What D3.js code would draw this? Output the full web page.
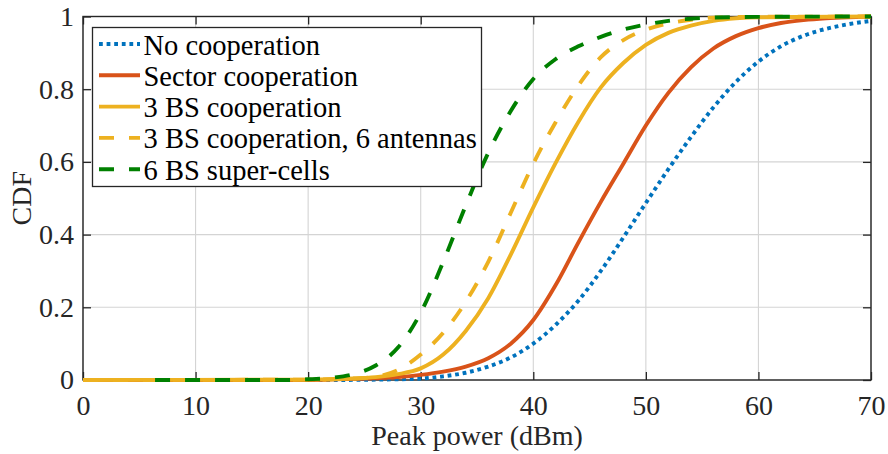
<!DOCTYPE html>
<html>
<head>
<meta charset="utf-8">
<script src="https://cdn.jsdelivr.net/npm/d3@7"></script>
<style>
  html, body { margin: 0; padding: 0; background: #fff; }
  svg { display: block; }
</style>
</head>
<body>
<svg id="chart" width="888" height="454"></svg>
<script>
// Axis ticks
const xTicks = [0, 10, 20, 30, 40, 50, 60, 70];
const yTicks = [0, 0.2, 0.4, 0.6, 0.8, 1];
const yTickLabels = ["0", "0.2", "0.4", "0.6", "0.8", "1"];

// Series names (legend order)
const seriesNames = [
  "No cooperation",
  "Sector cooperation",
  "3 BS cooperation",
  "3 BS cooperation, 6 antennas",
  "6 BS super-cells"
];

// CDF samples per scheme: peak power (dBm) and cumulative probability
const noCoopPower = [0, 22, 26, 30, 32, 34, 36, 38, 40, 42, 44, 46, 48, 50, 52, 54, 56, 58, 60, 62, 64, 66, 68, 70];
const noCoopCdf   = [0, 0, 0.001, 0.004, 0.01, 0.02, 0.037, 0.062, 0.1, 0.152, 0.218, 0.3, 0.392, 0.487, 0.58, 0.668, 0.75, 0.82, 0.876, 0.918, 0.947, 0.966, 0.979, 0.988];

const sectorPower = [0, 20, 24, 28, 30, 32, 34, 36, 38, 40, 42, 44, 46, 48, 50, 52, 54, 56, 58, 60, 62, 64, 66, 68, 70];
const sectorCdf   = [0, 0, 0.003, 0.008, 0.014, 0.023, 0.037, 0.06, 0.1, 0.165, 0.262, 0.378, 0.49, 0.595, 0.7, 0.79, 0.86, 0.912, 0.946, 0.968, 0.982, 0.99, 0.995, 0.998, 1];

const bs3Power = [0, 20, 24, 26, 28, 30, 32, 34, 36, 38, 40, 42, 44, 46, 48, 50, 52, 54, 56, 58, 60, 70];
const bs3Cdf   = [0, 0.001, 0.004, 0.008, 0.016, 0.032, 0.07, 0.135, 0.225, 0.345, 0.475, 0.598, 0.71, 0.805, 0.872, 0.922, 0.955, 0.975, 0.988, 0.995, 0.998, 1];

const bs3AntPower = [0, 20, 24, 26, 28, 30, 32, 34, 36, 38, 40, 42, 44, 46, 48, 50, 52, 54, 56, 60, 70];
const bs3AntCdf   = [0, 0.001, 0.004, 0.009, 0.028, 0.07, 0.13, 0.215, 0.325, 0.46, 0.595, 0.71, 0.81, 0.888, 0.935, 0.964, 0.981, 0.991, 0.997, 0.999, 1];

const superPower = [6.4, 18, 20, 22, 24, 26, 28, 30, 32, 34, 36, 38, 40, 42, 44, 46, 48, 50, 52, 54, 56, 60, 70];
const superCdf   = [0, 0, 0.002, 0.006, 0.016, 0.04, 0.09, 0.185, 0.325, 0.48, 0.625, 0.74, 0.828, 0.883, 0.918, 0.944, 0.964, 0.978, 0.988, 0.994, 0.997, 0.999, 1];

const seriesColors = ["#0072BD", "#D95319", "#EDB120", "#EDB120", "#008000"];
const seriesDash = ["3.8,3.8", null, null, "15,15", "15,15"];

const seriesPower = [noCoopPower, sectorPower, bs3Power, bs3AntPower, superPower];
const seriesCdf = [noCoopCdf, sectorCdf, bs3Cdf, bs3AntCdf, superCdf];

const series = seriesNames.map((name, i) => ({
  name,
  color: seriesColors[i],
  dash: seriesDash[i],
  points: seriesPower[i].map((p, j) => [p, seriesCdf[i][j]])
}));

// Layout
const plot = { left: 83, right: 871, top: 16.5, bottom: 380 };
const axisColor = "#262626";
const fontFamily = "'Liberation Serif'";
const fontSize = "28px";
const legendFontSize = "28.5px";
const lineWidth = 3.9;

const svg = d3.select("#chart");
svg.append("rect").attr("width", 888).attr("height", 454).attr("fill", "#fff");

const x = d3.scaleLinear().domain([0, 70]).range([plot.left, plot.right]);
const y = d3.scaleLinear().domain([0, 1]).range([plot.bottom, plot.top]);

// Grid
const grid = svg.append("g").attr("stroke", "#d4d4d4").attr("stroke-width", 1.1);
grid.selectAll("line.gx").data(xTicks).join("line")
  .attr("x1", d => x(d)).attr("x2", d => x(d))
  .attr("y1", plot.top).attr("y2", plot.bottom);
grid.selectAll("line.gy").data(yTicks).join("line")
  .attr("x1", plot.left).attr("x2", plot.right)
  .attr("y1", d => y(d)).attr("y2", d => y(d));

// Axes (ticks point inward on all four sides)
function styleAxis(g) {
  g.attr("font-family", null).attr("font-size", null);
  g.select(".domain").remove();
  g.selectAll(".tick line").attr("stroke", axisColor).attr("stroke-width", 1.3);
  g.selectAll(".tick text").attr("fill", axisColor)
    .style("font-family", fontFamily).style("font-size", fontSize);
}

svg.append("g").attr("transform", `translate(0,${plot.bottom})`)
  .call(d3.axisBottom(x).tickValues(xTicks).tickFormat(d3.format("d"))
    .tickSizeInner(-8).tickSizeOuter(0).tickPadding(15))
  .call(styleAxis);

svg.append("g").attr("transform", `translate(0,${plot.top})`)
  .call(d3.axisTop(x).tickValues(xTicks).tickFormat("").tickSizeInner(-8).tickSizeOuter(0))
  .call(styleAxis);

svg.append("g").attr("transform", `translate(${plot.left},0)`)
  .call(d3.axisLeft(y).tickValues(yTicks).tickFormat((d, i) => yTickLabels[i])
    .tickSizeInner(-8).tickSizeOuter(0).tickPadding(9))
  .call(styleAxis);

svg.append("g").attr("transform", `translate(${plot.right},0)`)
  .call(d3.axisRight(y).tickValues(yTicks).tickFormat("").tickSizeInner(-8).tickSizeOuter(0))
  .call(styleAxis);

// Axes box
svg.append("rect")
  .attr("x", plot.left).attr("y", plot.top)
  .attr("width", plot.right - plot.left).attr("height", plot.bottom - plot.top)
  .attr("fill", "none").attr("stroke", axisColor).attr("stroke-width", 1.4);

// Axis labels
svg.append("text")
  .attr("x", (plot.left + plot.right) / 2).attr("y", 445)
  .attr("text-anchor", "middle").attr("fill", axisColor)
  .style("font-family", fontFamily).style("font-size", fontSize)
  .text("Peak power (dBm)");

svg.append("text")
  .attr("transform", `translate(31,${(plot.top + plot.bottom) / 2}) rotate(-90)`)
  .attr("text-anchor", "middle").attr("fill", axisColor)
  .style("font-family", fontFamily).style("font-size", fontSize)
  .text("CDF");

// CDF curves
const line = d3.line().x(d => x(d[0])).y(d => y(d[1])).curve(d3.curveMonotoneX);

svg.append("g").selectAll("path").data(series).join("path")
  .attr("d", d => line(d.points))
  .attr("fill", "none")
  .attr("stroke", d => d.color)
  .attr("stroke-width", lineWidth)
  .attr("stroke-dasharray", d => d.dash)
  .attr("stroke-linejoin", "round");

// Legend
const legend = { x: 92.5, y: 27.5, w: 389, h: 159, rowStart: 44, rowStep: 31.3 };
const lg = svg.append("g");
lg.append("rect")
  .attr("x", legend.x).attr("y", legend.y).attr("width", legend.w).attr("height", legend.h)
  .attr("fill", "#fff").attr("stroke", axisColor).attr("stroke-width", 1.3);

const rows = lg.selectAll("g.row").data(series).join("g")
  .attr("transform", (d, i) => `translate(0,${legend.rowStart + i * legend.rowStep})`);
rows.append("line")
  .attr("x1", 99).attr("x2", 140).attr("y1", 0).attr("y2", 0)
  .attr("stroke", d => d.color).attr("stroke-width", lineWidth)
  .attr("stroke-dasharray", d => d.dash);
rows.append("text")
  .attr("x", 143.5).attr("y", 10.5)
  .attr("fill", "#000")
  .style("font-family", fontFamily).style("font-size", legendFontSize)
  .text(d => d.name);
</script>
</body>
</html>
